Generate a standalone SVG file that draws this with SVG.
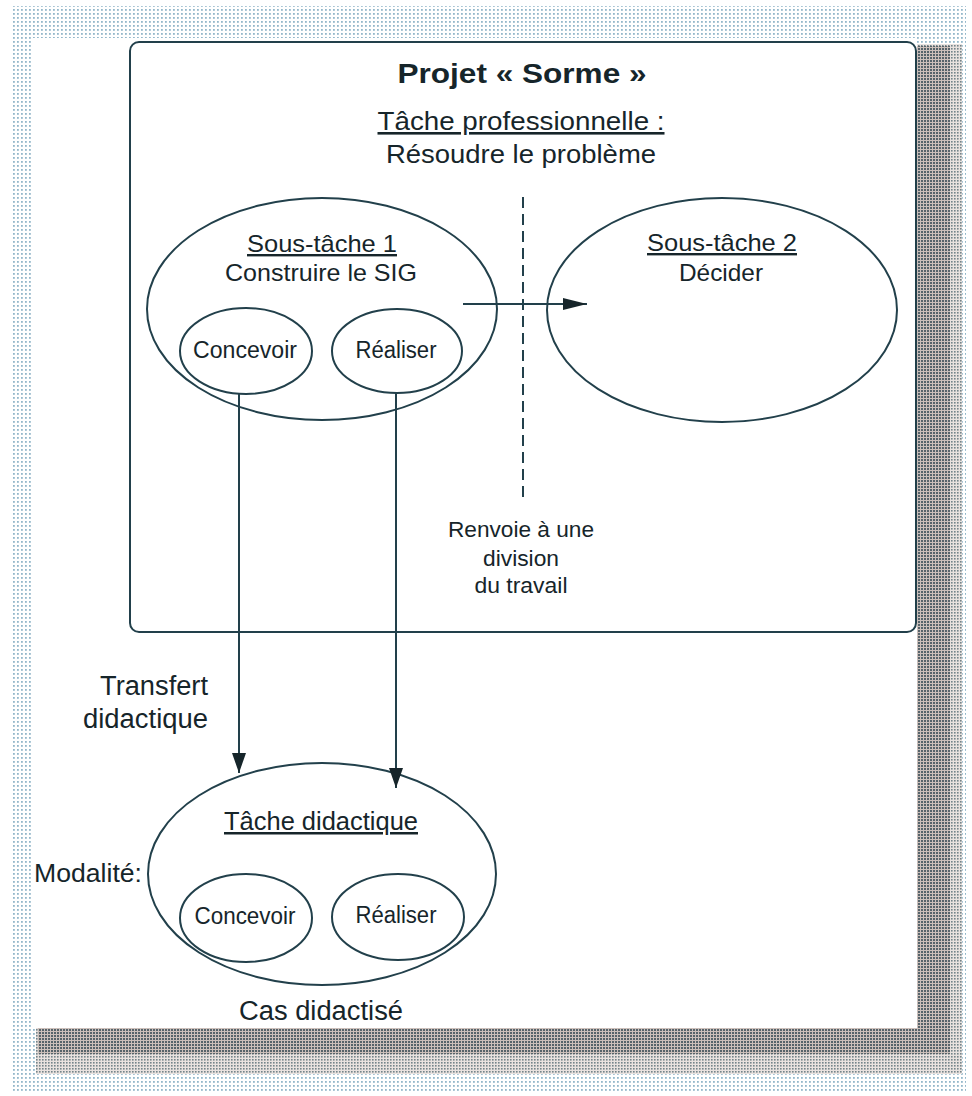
<svg xmlns="http://www.w3.org/2000/svg" width="972" height="1096" viewBox="0 0 972 1096">
  <defs>
    <style>
      .ln { fill: none; stroke: #22404b; stroke-width: 2; }
      .el { fill: none; stroke: #22404b; stroke-width: 2; }
      .tx { font-family: "Liberation Sans", Arial, sans-serif; fill: #16252a; }
      .c { text-anchor: middle; }
      .u { text-decoration: underline; }
    </style>
    <pattern id="dots" width="4" height="4" patternUnits="userSpaceOnUse">
      <rect x="1" y="1" width="1.8" height="1.8" fill="#6f9fb8"/>
    </pattern>
    <pattern id="shade" width="3" height="3" patternUnits="userSpaceOnUse">
      <rect width="3" height="3" fill="#cbbfba"/>
      <rect x="0" y="0" width="2" height="2" fill="#56636a"/>
    </pattern>
    <pattern id="shade2" width="3" height="3" patternUnits="userSpaceOnUse">
      <rect width="3" height="3" fill="#e9e2df"/>
      <rect x="0" y="0" width="1.6" height="1.6" fill="#74848a"/>
    </pattern>
    <marker id="ah" viewBox="0 0 24 12" refX="24" refY="6" markerWidth="24" markerHeight="12" markerUnits="userSpaceOnUse" orient="auto">
      <path d="M0,0 L24,6 L0,12 z" fill="#16252a"/>
    </marker>
    <marker id="av" viewBox="0 0 20 14" refX="20" refY="7" markerWidth="20" markerHeight="14" markerUnits="userSpaceOnUse" orient="auto">
      <path d="M0,0 L20,7 L0,14 z" fill="#16252a"/>
    </marker>
  </defs>

  <g id="page">
    <rect x="0" y="0" width="972" height="1096" fill="#ffffff"/>
    <rect x="12" y="6" width="954" height="1086" fill="url(#dots)" opacity="0.75"/>
    <rect x="36" y="44" width="926" height="1030" fill="url(#shade2)"/>
    <rect x="38" y="46" width="912" height="1008" fill="url(#shade)"/>
    <rect x="32" y="38" width="885" height="990" fill="#ffffff"/>
  </g>

  <g id="projet">
    <rect x="130" y="42" width="786" height="590" rx="9" ry="9" class="ln"/>
    <text class="tx c" x="522" y="83" font-size="28" font-weight="bold" textLength="249" lengthAdjust="spacingAndGlyphs">Projet « Sorme »</text>
    <text class="tx c u" x="521" y="130" font-size="26" textLength="287" lengthAdjust="spacingAndGlyphs">Tâche professionnelle :</text>
    <text class="tx c" x="521" y="163" font-size="26" textLength="270" lengthAdjust="spacingAndGlyphs">Résoudre le problème</text>
  </g>

  <g id="sous-tache-1">
    <ellipse cx="322" cy="309" rx="175" ry="111" class="el"/>
    <text class="tx c u" x="322" y="252" font-size="24" textLength="150" lengthAdjust="spacingAndGlyphs">Sous-tâche 1</text>
    <text class="tx c" x="321" y="281" font-size="24" textLength="192" lengthAdjust="spacingAndGlyphs">Construire le SIG</text>
  </g>

  <g id="concevoir-1">
    <ellipse cx="246" cy="351" rx="66" ry="43" class="el"/>
    <text class="tx c" x="245" y="358" font-size="23" textLength="104" lengthAdjust="spacingAndGlyphs">Concevoir</text>
  </g>

  <g id="realiser-1">
    <ellipse cx="397" cy="351" rx="65" ry="42" class="el"/>
    <text class="tx c" x="396" y="358" font-size="23" textLength="81" lengthAdjust="spacingAndGlyphs">Réaliser</text>
  </g>

  <g id="sous-tache-2">
    <ellipse cx="722" cy="310" rx="175" ry="112" class="el"/>
    <text class="tx c u" x="722" y="251" font-size="24" textLength="150" lengthAdjust="spacingAndGlyphs">Sous-tâche 2</text>
    <text class="tx c" x="721" y="281" font-size="24" textLength="84" lengthAdjust="spacingAndGlyphs">Décider</text>
  </g>

  <g id="division">
    <line x1="523" y1="197" x2="523" y2="502" class="ln" stroke-dasharray="11 6"/>
    <text class="tx c" x="521" y="537" font-size="22" textLength="146" lengthAdjust="spacingAndGlyphs">Renvoie à une</text>
    <text class="tx c" x="521" y="566" font-size="22" textLength="76" lengthAdjust="spacingAndGlyphs">division</text>
    <text class="tx c" x="521" y="593" font-size="22" textLength="93" lengthAdjust="spacingAndGlyphs">du travail</text>
  </g>

  <g id="transfert-label">
    <text class="tx" x="208" y="695" font-size="27" text-anchor="end" textLength="108" lengthAdjust="spacingAndGlyphs">Transfert</text>
    <text class="tx" x="208" y="728" font-size="27" text-anchor="end" textLength="125" lengthAdjust="spacingAndGlyphs">didactique</text>
  </g>

  <g id="tache-didactique">
    <ellipse cx="322" cy="874" rx="174" ry="111" class="el"/>
    <text class="tx c u" x="321" y="830" font-size="25" textLength="194" lengthAdjust="spacingAndGlyphs">Tâche didactique</text>
    <text class="tx" x="34" y="882" font-size="26" textLength="108" lengthAdjust="spacingAndGlyphs">Modalité:</text>
    <text class="tx c" x="321" y="1020" font-size="27" textLength="164" lengthAdjust="spacingAndGlyphs">Cas didactisé</text>
  </g>

  <g id="concevoir-2">
    <ellipse cx="246" cy="918" rx="66" ry="44" class="el"/>
    <text class="tx c" x="245" y="924" font-size="23" textLength="101" lengthAdjust="spacingAndGlyphs">Concevoir</text>
  </g>

  <g id="realiser-2">
    <ellipse cx="398" cy="917" rx="66" ry="43" class="el"/>
    <text class="tx c" x="396" y="923" font-size="23" textLength="81" lengthAdjust="spacingAndGlyphs">Réaliser</text>
  </g>

  <g id="connectors">
    <line x1="463" y1="304" x2="587" y2="304" class="ln" marker-end="url(#ah)"/>
    <line x1="239" y1="394" x2="239" y2="773" class="ln" marker-end="url(#av)"/>
    <line x1="396" y1="393" x2="396" y2="788" class="ln" marker-end="url(#av)"/>
  </g>
</svg>
